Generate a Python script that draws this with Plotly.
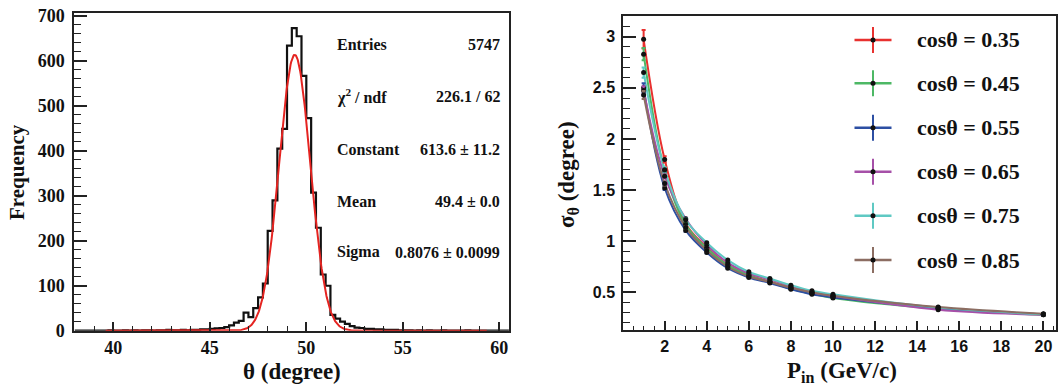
import numpy as np
import plotly.graph_objects as go

W, H = 1059, 388

# ---------------- Left panel data: histogram of theta ----------------
bin_start = 38.0
bin_width = 0.25
hist_counts = [
    0, 0, 0, 0, 0, 0,
    0, 1, 0, 0, 1, 0,
    1, 0, 1, 1, 0, 1,
    1, 2, 1, 1, 2, 1,
    2, 2, 3, 3,
    4, 5, 6, 8, 12, 18, 22, 40, 30, 50, 74, 105,
    222, 290, 405, 449, 634, 673, 655, 567, 473, 307, 229, 125, 100,
    35, 27, 20, 15, 10, 7, 6, 4, 4, 3, 3, 2, 2, 2, 1, 1, 1, 0, 1, 0, 1,
    0, 0, 1, 0, 0, 0, 0, 1, 0, 0, 0, 0, 0, 0, 0, 0,
]
fit_constant = 613.6
fit_mean = 49.4
fit_sigma = 0.8076
fit_xmin, fit_xmax = 39.6, 59.35

stats_labels = ["Entries", "χ<sup>2</sup> / ndf", "Constant", "Mean", "Sigma"]
stats_values = ["5747", "226.1 / 62", "613.6 ± 11.2", "49.4 ± 0.0", "0.8076 ± 0.0099"]

# ---------------- Right panel data: sigma_theta vs P_in ----------------
p_in = [1, 2, 3, 4, 5, 6, 7, 8, 9, 10, 15, 20]
series_names = ["cosθ = 0.35", "cosθ = 0.45", "cosθ = 0.55",
                "cosθ = 0.65", "cosθ = 0.75", "cosθ = 0.85"]
sig_035 = [2.975, 1.80, 1.17, 0.94, 0.77, 0.67, 0.605, 0.545, 0.495, 0.46, 0.345, 0.285]
sig_045 = [2.83, 1.69, 1.16, 0.93, 0.765, 0.665, 0.60, 0.535, 0.485, 0.445, 0.34, 0.28]
sig_055 = [2.50, 1.52, 1.105, 0.89, 0.735, 0.645, 0.59, 0.53, 0.48, 0.45, 0.345, 0.285]
sig_065 = [2.475, 1.635, 1.22, 0.965, 0.79, 0.685, 0.625, 0.56, 0.50, 0.465, 0.33, 0.28]
sig_075 = [2.65, 1.70, 1.21, 0.985, 0.815, 0.70, 0.635, 0.57, 0.515, 0.48, 0.35, 0.285]
sig_085 = [2.43, 1.565, 1.135, 0.91, 0.75, 0.655, 0.60, 0.545, 0.50, 0.465, 0.355, 0.29]
err_035 = [0.09, 0.03, 0.015, 0.01, 0.008, 0.007, 0.006, 0.005, 0.005, 0.005, 0.004, 0.003]
err_045 = [0.06, 0.025, 0.012, 0.01, 0.008, 0.007, 0.006, 0.005, 0.005, 0.005, 0.004, 0.003]
err_055 = [0.045, 0.02, 0.012, 0.009, 0.007, 0.006, 0.006, 0.005, 0.005, 0.004, 0.004, 0.003]
err_065 = [0.04, 0.02, 0.012, 0.009, 0.007, 0.006, 0.006, 0.005, 0.005, 0.004, 0.004, 0.003]
err_075 = [0.05, 0.02, 0.012, 0.009, 0.007, 0.006, 0.006, 0.005, 0.005, 0.004, 0.004, 0.003]
err_085 = [0.04, 0.02, 0.012, 0.009, 0.007, 0.006, 0.006, 0.005, 0.005, 0.004, 0.004, 0.003]
series_values = [sig_035, sig_045, sig_055, sig_065, sig_075, sig_085]
series_errors = [err_035, err_045, err_055, err_065, err_075, err_085]
series_colors = ["#e8312f", "#4db865", "#2d4fa3", "#a650a8", "#5fc9c3", "#8c6d62"]

# ---------------- helpers ----------------
def fx(px):
    return px / W

def fy(py):
    return 1 - py / H

SERIF = "Liberation Serif"
SANS = "Liberation Sans"
FRAME = "#222222"

fig = go.Figure()

# histogram
edges = [bin_start + bin_width * i for i in range(len(hist_counts) + 1)]
fig.add_trace(go.Scatter(
    x=edges, y=hist_counts + [hist_counts[-1]], mode="lines",
    line=dict(color="#111111", width=2.2, shape="hv"),
    xaxis="x", yaxis="y", showlegend=False, hoverinfo="skip"))

# gaussian fit (from the fit parameters)
xf = np.linspace(fit_xmin, fit_xmax, 800)
yf = fit_constant * np.exp(-0.5 * ((xf - fit_mean) / fit_sigma) ** 2)
fig.add_trace(go.Scatter(
    x=xf, y=yf, mode="lines", line=dict(color="#e52421", width=2),
    xaxis="x", yaxis="y", showlegend=False, hoverinfo="skip"))

# right panel curves
for vals, errs, col in zip(series_values, series_errors, series_colors):
    fig.add_trace(go.Scatter(
        x=p_in, y=vals, mode="lines",
        line=dict(color=col, width=2, shape="spline", smoothing=1.0),
        xaxis="x2", yaxis="y2", showlegend=False, hoverinfo="skip"))
for vals, errs, col in zip(series_values, series_errors, series_colors):
    fig.add_trace(go.Scatter(
        x=p_in, y=vals, mode="markers",
        marker=dict(color="#111111", size=5),
        error_y=dict(type="data", array=errs, color=col, thickness=2, width=2),
        xaxis="x2", yaxis="y2", showlegend=False, hoverinfo="skip"))

# axes
common = dict(showline=True, linecolor=FRAME, linewidth=1.5, mirror=True,
              ticks="inside", tickcolor=FRAME, tickwidth=1.5,
              showgrid=False, zeroline=False, automargin=False)

fig.update_layout(
    width=W, height=H, margin=dict(l=0, r=0, t=0, b=0, autoexpand=False),
    paper_bgcolor="white", plot_bgcolor="white",
    xaxis=dict(domain=[fx(74), fx(509.3)], range=[37.96, 60.52], anchor="y",
               dtick=5, tick0=40, ticklen=9,
               minor=dict(dtick=1, tick0=40, ticklen=5, ticks="inside",
                          tickcolor=FRAME, tickwidth=1.2, showgrid=False),
               tickfont=dict(family=SERIF, size=18, color="#111", weight="bold"),
               ticklabelstandoff=0, **common),
    yaxis=dict(domain=[fy(330.7), fy(13.3)], range=[0, 706], anchor="x",
               dtick=100, tick0=0, ticklen=13,
               minor=dict(dtick=20, tick0=0, ticklen=7, ticks="inside",
                          tickcolor=FRAME, tickwidth=1.2, showgrid=False),
               tickfont=dict(family=SERIF, size=18, color="#111", weight="bold"),
               ticklabelstandoff=4, **common),
    xaxis2=dict(domain=[fx(623), fx(1056)], range=[0.02, 20.6], anchor="y2",
                dtick=2, tick0=0, ticklen=9,
                minor=dict(dtick=0.5, tick0=0, ticklen=4.5, ticks="inside",
                           tickcolor=FRAME, tickwidth=1.2, showgrid=False),
                tickfont=dict(family=SANS, size=16, color="#111", weight="bold"),
                ticklabelstandoff=1, **common),
    yaxis2=dict(domain=[fy(330), fy(16)], range=[0.131, 3.203], anchor="x2",
                dtick=0.5, tick0=0, ticklen=13,
                minor=dict(dtick=0.1, tick0=0, ticklen=7, ticks="inside",
                           tickcolor=FRAME, tickwidth=1.2, showgrid=False),
                tickfont=dict(family=SANS, size=16, color="#111", weight="bold"),
                ticklabelstandoff=3, **common),
)

ann = []
tfont = dict(family=SERIF, size=23, color="#111", weight="bold")
ann.append(dict(text="θ (degree)", x=fx(291.5), y=fy(371), xref="paper", yref="paper",
                xanchor="center", yanchor="middle", showarrow=False, font=tfont))
ann.append(dict(text="Frequency", x=fx(17), y=fy(172), xref="paper", yref="paper",
                xanchor="center", yanchor="middle", showarrow=False, textangle=-90,
                font=dict(family=SERIF, size=21, color="#111", weight="bold")))
ann.append(dict(text="P<sub>in</sub> (GeV/c)", x=fx(842), y=fy(372), xref="paper", yref="paper",
                xanchor="center", yanchor="middle", showarrow=False, font=tfont))
ann.append(dict(text="σ<sub>θ</sub> (degree)", x=fx(568), y=fy(175), xref="paper", yref="paper",
                xanchor="center", yanchor="middle", showarrow=False, textangle=-90,
                font=tfont))

# stats box text
stat_y = [44.7, 96.7, 149, 201, 252]
sfont = dict(family=SERIF, size=16, color="#111", weight="bold")
for lab, val, yy in zip(stats_labels, stats_values, stat_y):
    ann.append(dict(text=lab, x=fx(335), y=fy(yy), xref="paper", yref="paper",
                    xanchor="left", yanchor="middle", showarrow=False, font=sfont))
    ann.append(dict(text=val, x=fx(502), y=fy(yy), xref="paper", yref="paper",
                    xanchor="right", yanchor="middle", showarrow=False, font=sfont))

# manual legend with error-cross markers
leg_y = [40, 83.3, 127.7, 171.7, 215.7, 260]
shapes = []
cx = 873
for name, col, yy in zip(series_names, series_colors, leg_y):
    shapes.append(dict(type="line", xref="paper", yref="paper",
                       x0=fx(cx - 18.5), x1=fx(cx + 18.5), y0=fy(yy), y1=fy(yy),
                       line=dict(color=col, width=2.5)))
    shapes.append(dict(type="line", xref="paper", yref="paper",
                       x0=fx(cx), x1=fx(cx), y0=fy(yy - 13), y1=fy(yy + 13),
                       line=dict(color=col, width=2)))
    shapes.append(dict(type="circle", xref="paper", yref="paper",
                       x0=fx(cx - 2.5), x1=fx(cx + 2.5), y0=fy(yy + 2.5), y1=fy(yy - 2.5),
                       fillcolor="#111", line=dict(color="#111", width=0)))
    ann.append(dict(text=name, x=fx(914.6), y=fy(yy), xref="paper", yref="paper",
                    xanchor="left", yanchor="middle", showarrow=False,
                    font=dict(family=SERIF, size=22, color="#111", weight="bold")))

fig.update_layout(annotations=ann, shapes=shapes)
fig.write_html("out.html")
